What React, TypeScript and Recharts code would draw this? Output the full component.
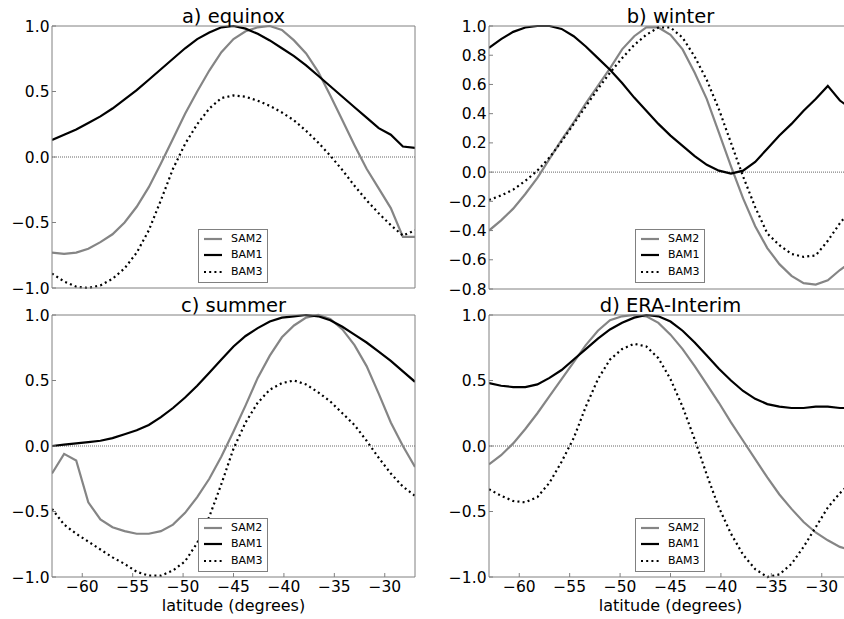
import { LineChart, Line, XAxis, YAxis, ReferenceLine } from 'recharts'

// latitude grid (degrees)
const LATITUDE = [
  -63, -61.8, -60.6, -59.4, -58.2, -57, -55.8, -54.6, -53.4, -52.2, -51, -49.8, -48.6, -47.4, -46.2, -45,
  -43.8, -42.6, -41.4, -40.2, -39, -37.8, -36.6, -35.4, -34.2, -33, -31.8, -30.6, -29.4, -28.2, -27,
]
const X_TICKS = [-60, -55, -50, -45, -40, -35, -30]
const Y_TICKS = [-1, -0.5, 0, 0.5, 1]
const Y_TICKS_WINTER = [-0.8, -0.6, -0.4, -0.2, 0, 0.2, 0.4, 0.6, 0.8, 1]

// a) equinox
const SAM2_EQUINOX = [-0.73, -0.74, -0.73, -0.7, -0.65, -0.59, -0.5, -0.38, -0.23, -0.05, 0.14, 0.33, 0.5, 0.66, 0.8, 0.9, 0.96, 0.99, 1.0, 0.97, 0.89, 0.79, 0.65, 0.47, 0.28, 0.09, -0.09, -0.24, -0.39, -0.61, -0.61]
const BAM1_EQUINOX = [0.13, 0.17, 0.21, 0.26, 0.31, 0.37, 0.44, 0.51, 0.59, 0.67, 0.75, 0.83, 0.9, 0.95, 0.99, 1.0, 0.98, 0.94, 0.89, 0.83, 0.77, 0.7, 0.62, 0.54, 0.46, 0.38, 0.3, 0.22, 0.17, 0.08, 0.07]
const BAM3_EQUINOX = [-0.89, -0.95, -0.99, -1.0, -0.98, -0.93, -0.85, -0.73, -0.56, -0.33, -0.09, 0.1, 0.25, 0.37, 0.45, 0.47, 0.46, 0.43, 0.39, 0.34, 0.28, 0.2, 0.11, 0.01, -0.1, -0.22, -0.33, -0.43, -0.52, -0.6, -0.56]

// b) winter
const SAM2_WINTER = [-0.4, -0.33, -0.25, -0.15, -0.04, 0.09, 0.22, 0.34, 0.47, 0.59, 0.71, 0.84, 0.93, 0.99, 0.99, 0.94, 0.84, 0.68, 0.5, 0.27, 0.04, -0.18, -0.37, -0.52, -0.63, -0.71, -0.76, -0.77, -0.74, -0.67, -0.61]
const BAM1_WINTER = [0.85, 0.91, 0.96, 0.99, 1.0, 1.0, 0.98, 0.93, 0.86, 0.78, 0.7, 0.61, 0.51, 0.42, 0.33, 0.25, 0.18, 0.11, 0.05, 0.01, -0.01, 0.01, 0.07, 0.16, 0.25, 0.33, 0.42, 0.5, 0.59, 0.49, 0.43]
const BAM3_WINTER = [-0.19, -0.16, -0.12, -0.06, 0.01, 0.1, 0.21, 0.33, 0.45, 0.57, 0.68, 0.78, 0.87, 0.94, 0.99, 0.99, 0.92, 0.79, 0.63, 0.43, 0.2, -0.03, -0.24, -0.42, -0.5, -0.56, -0.58, -0.57, -0.47, -0.35, -0.25]

// c) summer
const SAM2_SUMMER = [-0.21, -0.06, -0.11, -0.43, -0.56, -0.62, -0.65, -0.67, -0.67, -0.65, -0.6, -0.51, -0.39, -0.25, -0.08, 0.11, 0.31, 0.52, 0.69, 0.83, 0.92, 0.98, 1.0, 0.97, 0.89, 0.77, 0.61, 0.4, 0.18, 0.0, -0.16]
const BAM1_SUMMER = [0.0, 0.01, 0.02, 0.03, 0.04, 0.06, 0.09, 0.12, 0.16, 0.22, 0.29, 0.37, 0.46, 0.56, 0.66, 0.76, 0.84, 0.9, 0.95, 0.98, 0.99, 1.0, 0.99, 0.96, 0.91, 0.85, 0.79, 0.72, 0.65, 0.57, 0.49]
const BAM3_SUMMER = [-0.48, -0.6, -0.67, -0.73, -0.79, -0.85, -0.9, -0.96, -0.99, -0.99, -0.95, -0.88, -0.74, -0.54, -0.29, -0.02, 0.18, 0.33, 0.43, 0.48, 0.5, 0.47, 0.41, 0.34, 0.25, 0.16, 0.04, -0.09, -0.21, -0.31, -0.38]

// d) ERA-Interim
const SAM2_ERA = [-0.14, -0.07, 0.02, 0.13, 0.25, 0.38, 0.51, 0.64, 0.77, 0.88, 0.96, 0.99, 1.0, 0.99, 0.94, 0.85, 0.74, 0.61, 0.47, 0.33, 0.18, 0.04, -0.1, -0.24, -0.37, -0.48, -0.58, -0.66, -0.72, -0.77, -0.8]
const BAM1_ERA = [0.48, 0.46, 0.45, 0.45, 0.47, 0.52, 0.58, 0.66, 0.74, 0.82, 0.89, 0.94, 0.98, 1.0, 0.99, 0.95, 0.88, 0.79, 0.69, 0.59, 0.5, 0.42, 0.36, 0.32, 0.3, 0.29, 0.29, 0.3, 0.3, 0.29, 0.29]
const BAM3_ERA = [-0.33, -0.38, -0.42, -0.43, -0.39, -0.28, -0.12, 0.06, 0.3, 0.51, 0.66, 0.74, 0.78, 0.76, 0.67, 0.51, 0.3, 0.05, -0.22, -0.47, -0.67, -0.83, -0.94, -1.0, -0.98, -0.9, -0.77, -0.62, -0.47, -0.36, -0.27]

const SERIES = [
  { key: 'sam2', name: 'SAM2', color: '#858585', dash: undefined },
  { key: 'bam1', name: 'BAM1', color: '#000000', dash: undefined },
  { key: 'bam3', name: 'BAM3', color: '#000000', dash: '2 3.2' },
]

const FONT = '"DejaVu Sans", sans-serif'
const Y_AXIS_W = 50
const TOP_PAD = 26
const PLOT_W = 363
const SPINE = '#808080'

const minus = (v: number, digits?: number) => {
  const s = digits === undefined ? String(Math.abs(v)) : Math.abs(v).toFixed(digits)
  return v < 0 ? '\u2212' + s : s
}

function LegendBox({ left, top }: { left: number; top: number }) {
  return (
    <div
      style={{
        position: 'absolute',
        left,
        top,
        width: 68,
        height: 52,
        border: `1px solid ${SPINE}`,
        background: '#fff',
        fontSize: 11,
        color: '#000',
      }}
    >
      {SERIES.map((s, i) => (
        <div
          key={s.key}
          style={{ position: 'absolute', left: 0, top: 1 + i * 16.3, height: 16, display: 'flex', alignItems: 'center' }}
        >
          <svg width={30} height={16}>
            <line x1={5} x2={23} y1={8} y2={8} stroke={s.color} strokeWidth={2.2} strokeDasharray={s.dash} />
          </svg>
          <span style={{ marginLeft: 2, lineHeight: '16px' }}>{s.name}</span>
        </div>
      ))}
    </div>
  )
}

function Panel({
  title,
  sam2,
  bam1,
  bam3,
  yTicks,
  plotLeft,
  plotTop,
  plotH,
  bottom,
}: {
  title: string
  sam2: number[]
  bam1: number[]
  bam3: number[]
  yTicks: number[]
  plotLeft: number
  plotTop: number
  plotH: number
  bottom: boolean
}) {
  const rows = LATITUDE.map((lat, i) => ({ lat, sam2: sam2[i], bam1: bam1[i], bam3: bam3[i] }))
  // top panels still need room below the plot for the lowest y tick label
  const axisH = bottom ? 42 : 12
  const width = Y_AXIS_W + PLOT_W + 1
  const height = TOP_PAD + plotH + axisH
  const yDomain = [yTicks[0], yTicks[yTicks.length - 1]]
  return (
    <div style={{ position: 'absolute', left: plotLeft - Y_AXIS_W, top: plotTop - TOP_PAD, width, height }}>
      <LineChart width={width} height={height} data={rows} margin={{ top: TOP_PAD - 1, right: 0, bottom: 0, left: 0 }}>
        <XAxis
          dataKey="lat"
          type="number"
          domain={[-63, -27]}
          ticks={X_TICKS}
          interval={0}
          allowDataOverflow
          height={axisH}
          stroke={SPINE}
          tickSize={-4}
          tickMargin={8}
          tick={bottom ? { fontSize: 15.5, fill: '#000' } : false}
          tickFormatter={(v) => minus(v)}
          label={
            bottom
              ? { value: 'latitude (degrees)', position: 'insideBottom', offset: 8, fontSize: 16, fill: '#000' }
              : undefined
          }
        />
        <XAxis
          xAxisId="top"
          orientation="top"
          dataKey="lat"
          type="number"
          domain={[-63, -27]}
          ticks={X_TICKS}
          interval={0}
          allowDataOverflow
          height={1}
          stroke={SPINE}
          tickSize={-4}
          tick={false}
          label={{ value: title, position: 'top', offset: 2, fontSize: 19.5, fill: '#000' }}
        />
        <YAxis
          type="number"
          domain={yDomain}
          ticks={yTicks}
          interval={0}
          width={Y_AXIS_W}
          stroke={SPINE}
          tickSize={-4}
          tickMargin={6.5}
          tick={{ fontSize: 15.5, fill: '#000' }}
          tickFormatter={(v) => minus(v, 1)}
        />
        <YAxis
          yAxisId="right"
          orientation="right"
          type="number"
          domain={yDomain}
          ticks={yTicks}
          interval={0}
          width={1}
          stroke={SPINE}
          tickSize={-4}
          tick={false}
        />
        <ReferenceLine y={0} stroke="#666" strokeWidth={1} strokeDasharray="1 1" />
        {SERIES.map((s) => (
          <Line
            key={s.key}
            dataKey={s.key}
            name={s.name}
            type="linear"
            stroke={s.color}
            strokeWidth={2.2}
            strokeDasharray={s.dash}
            dot={false}
            activeDot={false}
            isAnimationActive={false}
          />
        ))}
      </LineChart>
      <LegendBox left={Y_AXIS_W + 146} top={TOP_PAD + 203} />
    </div>
  )
}

export default function App() {
  return (
    <div
      style={{
        position: 'absolute',
        left: 0,
        top: 0,
        width: 844,
        height: 619,
        overflow: 'hidden',
        background: '#fff',
        fontFamily: FONT,
      }}
    >
      <Panel title="a) equinox" sam2={SAM2_EQUINOX} bam1={BAM1_EQUINOX} bam3={BAM3_EQUINOX} yTicks={Y_TICKS} plotLeft={52} plotTop={26} plotH={262} bottom={false} />
      <Panel title="b) winter" sam2={SAM2_WINTER} bam1={BAM1_WINTER} bam3={BAM3_WINTER} yTicks={Y_TICKS_WINTER} plotLeft={489} plotTop={26} plotH={263} bottom={false} />
      <Panel title="c) summer" sam2={SAM2_SUMMER} bam1={BAM1_SUMMER} bam3={BAM3_SUMMER} yTicks={Y_TICKS} plotLeft={52} plotTop={315} plotH={262} bottom />
      <Panel title="d) ERA-Interim" sam2={SAM2_ERA} bam1={BAM1_ERA} bam3={BAM3_ERA} yTicks={Y_TICKS} plotLeft={489} plotTop={315} plotH={262} bottom />
    </div>
  )
}
